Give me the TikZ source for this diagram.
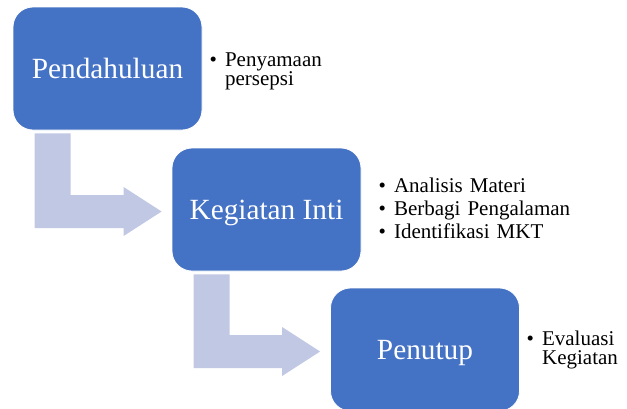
\documentclass[tikz,border=0pt]{standalone}
\usepackage{fontspec}
\setmainfont{Liberation Serif}
\usetikzlibrary{calc}
\definecolor{boxblue}{HTML}{4472C4}
\definecolor{arrowblue}{RGB}{192,200,228}
\newcommand\tightlines{\lineskiplimit=-20pt\relax}
\tikzset{
  stagebox/.style={draw=white, line width=0.8pt, fill=boxblue, rounded corners=20pt,
    minimum width=189pt, minimum height=123pt, inner sep=0pt, text=white,
    font=\fontsize{29.3}{34}\selectfont, text height=20pt, text depth=0pt},
  bulletlist/.style={inner sep=0pt, anchor=base west, align=left, text width=120pt,
    font=\fontsize{21}{19}\selectfont},
  bentarrow/.style={fill=arrowblue}
}
\newcommand\bentarr[2]{%
  \fill[bentarrow] let \p1=(#1.south west), \p2=(#2.west) in
    (\x1+22pt,\y1-3pt) -- (\x1+58pt,\y1-3pt) -- (\x1+58pt,\y2+14.5pt)
    -- (\x2-48pt,\y2+14.5pt) -- (\x2-48pt,\y2+22.5pt) -- (\x2-10pt,\y2-2pt)
    -- (\x2-48pt,\y2-26.5pt) -- (\x2-48pt,\y2-18.5pt) -- (\x1+22pt,\y2-18.5pt) -- cycle;}
\begin{document}
\begin{tikzpicture}[x=1pt,y=-1pt]
\useasboundingbox (0,0) rectangle (627,408);
\node[stagebox] (b1) at (107.5,68.5) {Pendahuluan};
\node[stagebox] (b2) at (266.5,209.5) {Kegiatan Inti};
\node[stagebox] (b3) at (425,349.5) {Penutup};
\bentarr{b1}{b2}
\bentarr{b2}{b3}
\node[bulletlist] (l1) at (209.5,66) {\tightlines•\hspace{8pt}Penyamaan\\\hspace*{15.4pt}persepsi};
\node[bulletlist, text width=200pt, font=\fontsize{21}{23}\selectfont] (l2) at (378.5,192)
  {\tightlines•\hspace{8pt}Analisis Materi\\•\hspace{8pt}Berbagi Pengalaman\\•\hspace{8pt}Identifikasi MKT};
\node[bulletlist, text width=100pt, font=\fontsize{21}{19}\selectfont] (l3) at (526.5,345) {\tightlines•\hspace{8pt}Evaluasi\\\hspace*{15.4pt}Kegiatan};
\end{tikzpicture}
\end{document}
